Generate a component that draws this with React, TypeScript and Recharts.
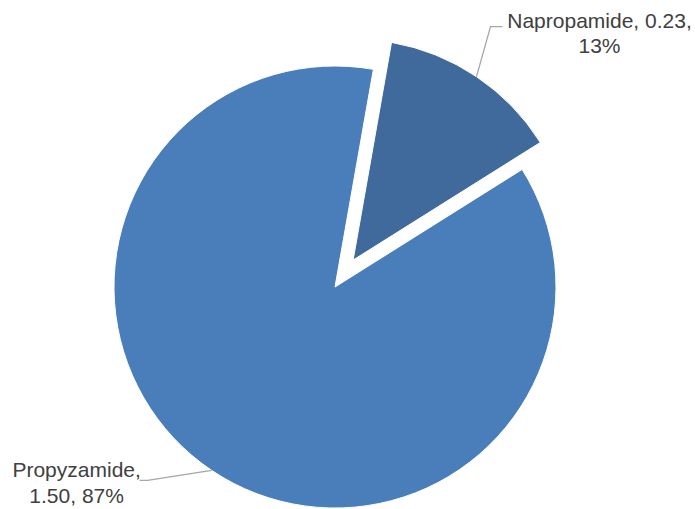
import React from "react";
import { PieChart, Pie, Cell } from "recharts";

const categories = ["Napropamide", "Propyzamide"];
const values = [0.23, 1.5];
const colors = ["#3F6A9B", "#4A7EBB"];

const data = categories.map((name, i) => ({ name, value: values[i] }));

const W = 695;
const H = 509;
const CX = 335;
const CY = 287;
const R = 221;
const START = 80;
const EXPLODE = 32.5;

const total = values.reduce((a, b) => a + b, 0);
const midNapro = START - ((values[0] / total) * 360) / 2;
const RAD = Math.PI / 180;
const exCx = CX + EXPLODE * Math.cos(midNapro * RAD);
const exCy = CY - EXPLODE * Math.sin(midNapro * RAD);

// per-label layout: elbow, end of leader, text centre and baselines (relative to arc point)
const labelLayout: Record<string, { elbow: [number, number]; end: [number, number]; tx: number; ty: [number, number]; lines: (v: string, p: string) => string[] }> = {
  Napropamide: {
    elbow: [14, -50],
    end: [26, -50],
    tx: 123,
    ty: [-49, -24],
    lines: (v, p) => [`Napropamide, ${v},`, `${p}`],
  },
  Propyzamide: {
    elbow: [-64, 10],
    end: [-72, 10],
    tx: -135,
    ty: [7, 33],
    lines: (v, p) => ["Propyzamide,", `${v}, ${p}`],
  },
};

const makeLabel = (only: string) => (props: any) => {
  const { cx, cy, midAngle, outerRadius, percent, name, value } = props;
  if (name !== only) return null;
  const sx = cx + outerRadius * Math.cos(-midAngle * RAD);
  const sy = cy + outerRadius * Math.sin(-midAngle * RAD);
  const L = labelLayout[name];
  const v = Number(value).toFixed(2);
  const p = `${Math.round(percent * 100)}%`;
  const lines = L.lines(v, p);
  return (
    <g>
      <polyline
        points={`${sx},${sy} ${sx + L.elbow[0]},${sy + L.elbow[1]} ${sx + L.end[0]},${sy + L.end[1]}`}
        fill="none"
        stroke="#A6A6A6"
        strokeWidth={1.3}
      />
      {lines.map((t, i) => (
        <text
          key={i}
          x={sx + L.tx}
          y={sy + L.ty[i]}
          textAnchor="middle"
          fill="#404040"
          fontSize={21}
          fontFamily="'Liberation Sans', Arial, sans-serif"
        >
          {t}
        </text>
      ))}
    </g>
  );
};

export default function App() {
  return (
    <div style={{ position: "absolute", left: 0, top: 0, width: W, height: H, background: "#fff" }}>
      <PieChart width={W} height={H} margin={{ top: 0, right: 0, bottom: 0, left: 0 }}>
        <Pie
          data={data}
          dataKey="value"
          nameKey="name"
          cx={CX}
          cy={CY}
          outerRadius={R}
          startAngle={START}
          endAngle={START - 360}
          isAnimationActive={false}
          labelLine={false}
          label={makeLabel("Propyzamide")}
        >
          {data.map((d, i) => (
            <Cell
              key={d.name}
              fill={d.name === "Propyzamide" ? colors[i] : "transparent"}
              stroke={d.name === "Propyzamide" ? "#ffffff" : "none"}
              strokeWidth={1}
            />
          ))}
        </Pie>
        <Pie
          data={data}
          dataKey="value"
          nameKey="name"
          cx={exCx}
          cy={exCy}
          outerRadius={R}
          startAngle={START}
          endAngle={START - 360}
          isAnimationActive={false}
          labelLine={false}
          label={makeLabel("Napropamide")}
        >
          {data.map((d, i) => (
            <Cell
              key={d.name}
              fill={d.name === "Napropamide" ? colors[i] : "transparent"}
              stroke={d.name === "Napropamide" ? "#ffffff" : "none"}
              strokeWidth={1}
            />
          ))}
        </Pie>
      </PieChart>
    </div>
  );
}
